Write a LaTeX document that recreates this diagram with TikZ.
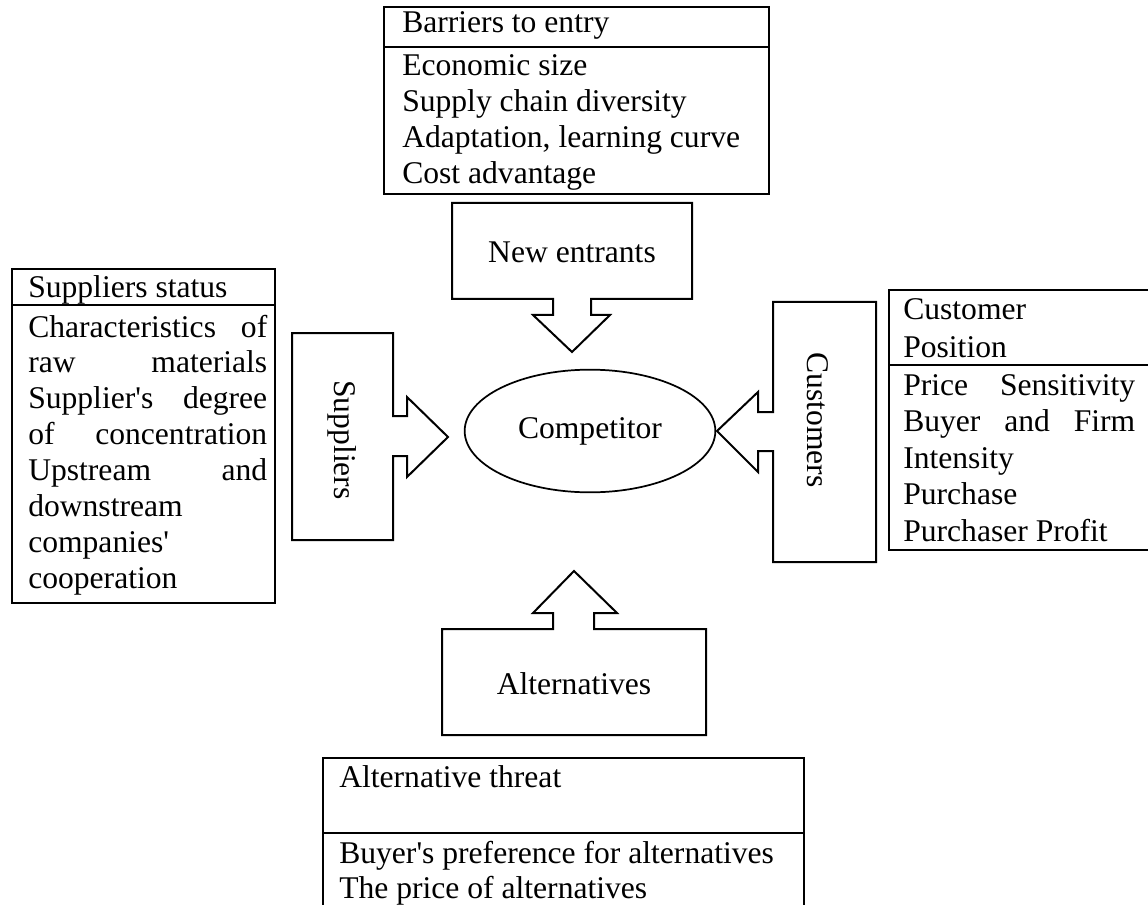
\documentclass[tikz,border=0pt]{standalone}
\usepackage{fontspec}
\setmainfont{Liberation Serif}
\usetikzlibrary{shapes.geometric}
% widths of the justified lines in the two side panels
\newlength\jwl \setlength\jwl{179.25pt}
\newlength\jwr \setlength\jwr{174pt}
\newcommand\apos{\textquotesingle}
\begin{document}
\begin{tikzpicture}[x=0.75pt,y=-0.75pt,
  every node/.style={font=\fontsize{23.7}{27}\selectfont},
  txt/.style={anchor=base west, inner sep=0pt},
  lbl/.style={inner sep=0pt},
  frame/.style={draw=black, line width=1.5pt},
  blockarrow/.style={draw=black, line width=1.5pt, line join=miter}]
\clip (0,0) rectangle (1148,905);
\fill[white] (0,0) rectangle (1148,905);

% ---- barriers to entry (top) ----
\draw[frame] (384,7) rectangle (769,194);
\draw[frame] (384,47) -- (769,47);
\node[txt] (bar-h) at (402,33) {Barriers to entry};
\foreach \t [count=\i] in {Economic size, Supply chain diversity, {Adaptation, learning curve}, Cost advantage}
  \node[txt] (bar-\i) at (402,{76+36*(\i-1)}) {\t};

% ---- suppliers status (left) ----
\draw[frame] (12,269) rectangle (275,603);
\draw[frame] (12,305) -- (275,305);
\node[txt] (sup-h) at (28,297) {Suppliers status};
\foreach \t [count=\i] in {
  {\makebox[\jwl][s]{Characteristics of}},
  {\makebox[\jwl][s]{raw materials}},
  {\makebox[\jwl][s]{Supplier\apos s degree}},
  {\makebox[\jwl][s]{of concentration}},
  {\makebox[\jwl][s]{Upstream and}},
  downstream, {companies\apos}, cooperation}
  \node[txt] (sup-\i) at (28,{337+35.9*(\i-1)}) {\t};

% ---- customer position (right) ----
\draw[frame] (889,290) rectangle (1170,550);
\draw[frame] (889,365) -- (1170,365);
\node[txt] (cus-h1) at (903,320) {Customer};
\node[txt] (cus-h2) at (903,357) {Position};
\foreach \t [count=\i] in {
  {\makebox[\jwr][s]{Price Sensitivity}},
  {\makebox[\jwr][s]{Buyer and Firm}},
  Intensity, Purchase, Purchaser Profit}
  \node[txt] (cus-\i) at (903,{395+36.6*(\i-1)}) {\t};

% ---- alternative threat (bottom) ----
\draw[frame] (323,758) rectangle (804,930);
\draw[frame] (323,833) -- (804,833);
\node[txt] (alt-h) at (339,787) {Alternative threat};
\node[txt] (alt-1) at (339,863) {Buyer\apos s preference for alternatives};
\node[txt] (alt-2) at (339,898) {The price of alternatives};

% ---- competitor ----
\node[draw, ellipse, line width=1.3pt, minimum width=188pt, minimum height=92pt, inner sep=0pt]
  (comp) at (590,431) {Competitor};

% ---- block arrows pointing at the competitor ----
\draw[blockarrow] (452,203) -- (692,203) -- (692,299) -- (591,299) -- (591,315)
  -- (610,315) -- (572,352) -- (533,315) -- (553,315) -- (553,299) -- (452,299) -- cycle;
\node[lbl] (newent) at (572,252) {New entrants};

\draw[blockarrow] (292,333) -- (393,333) -- (393,416) -- (407,416) -- (407,397)
  -- (448,437) -- (407,477) -- (407,456) -- (393,456) -- (393,540) -- (292,540) -- cycle;
\node[lbl, rotate=-90] (supp) at (342,440) {Suppliers};

\draw[blockarrow] (876,302) -- (876,562) -- (773,562) -- (773,451) -- (758,451)
  -- (758,472) -- (717,431) -- (758,392) -- (758,412) -- (773,412) -- (773,302) -- cycle;
\node[lbl, rotate=-90] (cust) at (818,420) {Customers};

\draw[blockarrow] (574,571) -- (617,613) -- (594,613) -- (594,629) -- (706,629)
  -- (706,735) -- (442,735) -- (442,629) -- (553,629) -- (553,613) -- (533,613) -- cycle;
\node[lbl] (alts) at (574,684) {Alternatives};
\end{tikzpicture}
\end{document}
